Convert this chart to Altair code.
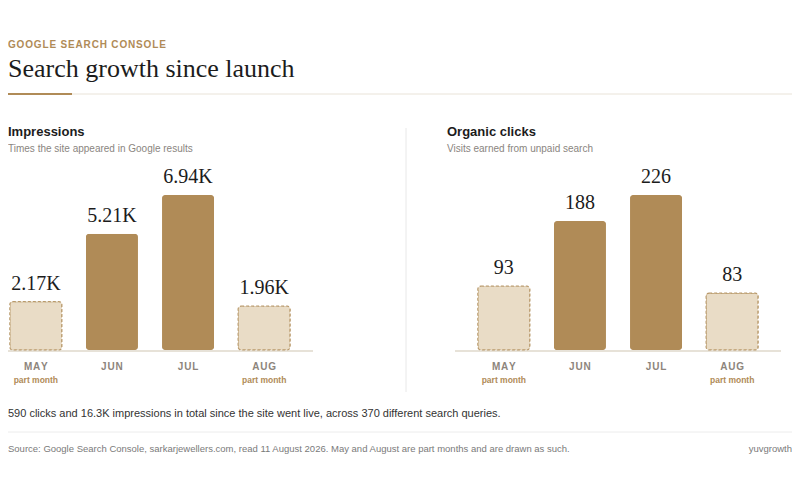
import altair as alt
import pandas as pd

# ---- data ----
months = ["MAY", "JUN", "JUL", "AUG"]
part_month = [True, False, False, True]
impressions = [2170, 5210, 6940, 1960]
impression_labels = ["2.17K", "5.21K", "6.94K", "1.96K"]
clicks = [93, 188, 226, 83]
click_labels = ["93", "188", "226", "83"]

# ---- style ----
SANS = "Liberation Sans"
SERIF = "Liberation Serif"
GOLD = "#b08b57"
LIGHT = "#e9dcc6"
DASH = "#b99a6c"
INK = "#1c1c1c"
GREY = "#8a8580"
MONTH = "#8d857c"
BASELINE = "#e7e2d8"

W = 784
BASE_Y = 342
TOP_Y = 187


def spaced(s, sep):
    return sep.join(s)


def one():
    return alt.Data(values=[{"k": 1}])


def txt(s, x, y, size, color, weight="normal", font=SANS, align="left"):
    return alt.Chart(one()).mark_text(
        align=align, baseline="alphabetic", font=font, fontSize=size,
        fontWeight=weight, color=color
    ).encode(x=alt.value(x), y=alt.value(y), text=alt.value(s))


def hrule(x0, x1, y, color, width):
    return alt.Chart(one()).mark_rule(color=color, strokeWidth=width).encode(
        x=alt.value(x0), x2=alt.value(x1), y=alt.value(y))


def vrule(x, y0, y1, color, width):
    return alt.Chart(one()).mark_rule(color=color, strokeWidth=width).encode(
        x=alt.value(x), y=alt.value(y0), y2=alt.value(y1))


def panel(values, labels, x0, x1, line0):
    df = pd.DataFrame({
        "month": months,
        "value": values,
        "label": labels,
        "part": part_month,
        "mlabel": [spaced(m, "\u200a") for m in months],
    })
    x = alt.X("month:N", sort=months, axis=None,
              scale=alt.Scale(domain=months, range=[x0, x1],
                              paddingInner=0.316, paddingOuter=0.30))
    y = alt.Y("value:Q", axis=None,
              scale=alt.Scale(domain=[0, max(values)], range=[BASE_Y, TOP_Y],
                              nice=False, zero=True))
    base = alt.Chart(df)
    line = hrule(line0, x1, BASE_Y + 1, BASELINE, 2)
    full = base.transform_filter("!datum.part").mark_bar(
        cornerRadius=3, color=GOLD).encode(x=x, y=y)
    part = base.transform_filter("datum.part").mark_bar(
        cornerRadius=3, fill=LIGHT, stroke=DASH, strokeDash=[3, 2],
        strokeWidth=1.2).encode(x=x, y=y)
    lbl = base.mark_text(font=SERIF, fontSize=20, dy=-12, baseline="alphabetic",
                         color=INK).encode(x=x, y=y, text="label:N")
    mon = base.mark_text(font=SANS, fontSize=10, fontWeight="bold",
                         baseline="alphabetic", color=MONTH).encode(
        x=x, y=alt.value(362), text="mlabel:N")
    pm = base.transform_filter("datum.part").mark_text(
        font=SANS, fontSize=8.5, fontWeight="bold", baseline="alphabetic",
        color=GOLD, text="part month").encode(x=x, y=alt.value(375))
    return alt.layer(line, part, full, lbl, mon, pm)


left = panel(impressions, impression_labels, -21, 305, -8)
right = panel(clicks, click_labels, 447, 773, 447)

texts = [
    txt(spaced("GOOGLE SEARCH CONSOLE", "\u200a"), 0, 40, 10, GOLD, "bold"),
    txt("Search growth since launch", 0, 69, 26, INK, font=SERIF),
    hrule(-8, 64, 86, GOLD, 2),
    hrule(64, W, 86, "#e9e3d8", 1),
    txt("Impressions", 0, 128, 13, INK, "bold"),
    txt("Times the site appeared in Google results", 0, 144, 10, GREY),
    txt("Organic clicks", 439, 128, 13, INK, "bold"),
    txt("Visits earned from unpaid search", 439, 144, 10, GREY),
    vrule(398, 120, 384, "#e8e8e8", 1),
    txt("590 clicks and 16.3K impressions in total since the site went live, "
        "across 370 different search queries.", 0, 409, 11, "#333333"),
    hrule(-8, W, 424, "#ececec", 1),
    txt("Source: Google Search Console, sarkarjewellers.com, read 11 August 2026. "
        "May and August are part months and are drawn as such.",
        0, 444, 9.5, "#7a7a7a"),
    txt("yuvgrowth", W, 444, 9.5, "#7a7a7a", align="right"),
]

chart = alt.layer(*texts, left, right).resolve_scale(
    x="independent", y="independent"
).properties(
    width=W, height=464, padding=0,
    autosize=alt.AutoSizeParams(type="none"),
    background="white",
).configure_view(stroke=None)

chart.save("out.html", embed_options={"renderer": "svg", "actions": False})
